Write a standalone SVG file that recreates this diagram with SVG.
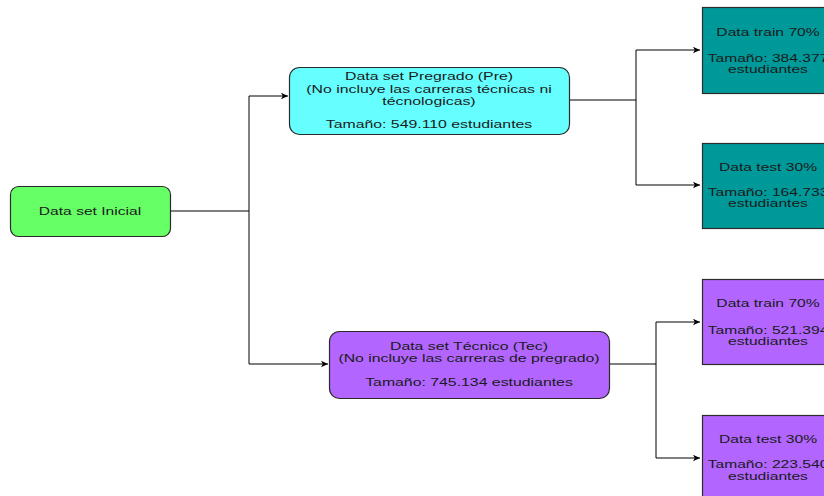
<svg xmlns="http://www.w3.org/2000/svg" width="824" height="496" viewBox="0 0 824 496">
<defs>
<style>
.box{stroke:#2b2b2b;stroke-width:1.2}
.t{font-family:"Liberation Sans",Arial,sans-serif;font-size:11px;fill:#1a1a1a;text-anchor:middle}
.c{fill:none;stroke:#000;stroke-width:1}
</style>
<marker id="arr" markerWidth="8" markerHeight="8" refX="7" refY="4" orient="auto" markerUnits="userSpaceOnUse">
<path d="M0,0.8 L7,4 L0,7.2 L1.8,4 Z" fill="#000"/>
</marker>
</defs>
<rect width="824" height="496" fill="#fff"/>
<g id="connectors">
<path class="c" d="M170,211 H249 V96 H288" marker-end="url(#arr)"/>
<path class="c" d="M249,211 V364 H328" marker-end="url(#arr)"/>
<path class="c" d="M570,100 H636 V50 H700" marker-end="url(#arr)"/>
<path class="c" d="M636,100 V185 H700" marker-end="url(#arr)"/>
<path class="c" d="M610,364 H656 V322 H700" marker-end="url(#arr)"/>
<path class="c" d="M656,364 V458 H700" marker-end="url(#arr)"/>
</g>
<g id="inicial">
<rect class="box" x="10.5" y="186.5" width="160" height="50" rx="8" fill="#66FF66"/>
<text class="t" transform="translate(90,215) scale(1.42,1)">Data set Inicial</text>
</g>
<g id="pregrado">
<rect class="box" x="289.5" y="67.5" width="280" height="67" rx="10" fill="#66FFFF"/>
<text class="t" transform="translate(429,80) scale(1.44,1)">Data set Pregrado (Pre)</text>
<text class="t" transform="translate(429,92.5) scale(1.44,1)">(No incluye las carreras técnicas ni</text>
<text class="t" transform="translate(429,105) scale(1.44,1)">técnologicas)</text>
<text class="t" transform="translate(429,128) scale(1.44,1)">Tamaño: 549.110 estudiantes</text>
</g>
<g id="tecnico">
<rect class="box" x="329.5" y="331.5" width="280" height="67" rx="10" fill="#B266FF"/>
<text class="t" transform="translate(469,350) scale(1.44,1)">Data set Técnico (Tec)</text>
<text class="t" transform="translate(469,362) scale(1.44,1)">(No incluye las carreras de pregrado)</text>
<text class="t" transform="translate(469,386) scale(1.44,1)">Tamaño: 745.134 estudiantes</text>
</g>
<g id="pre-train">
<rect class="box" x="702.5" y="7.5" width="132" height="86" fill="#009999"/>
<text class="t" transform="translate(768,36) scale(1.42,1)">Data train 70%</text>
<text class="t" transform="translate(768,62) scale(1.42,1)">Tamaño: 384.377</text>
<text class="t" transform="translate(768,73) scale(1.42,1)">estudiantes</text>
</g>
<g id="pre-test">
<rect class="box" x="702.5" y="143.5" width="132" height="85" fill="#009999"/>
<text class="t" transform="translate(768,171) scale(1.42,1)">Data test 30%</text>
<text class="t" transform="translate(768,196) scale(1.42,1)">Tamaño: 164.733</text>
<text class="t" transform="translate(768,207) scale(1.42,1)">estudiantes</text>
</g>
<g id="tec-train">
<rect class="box" x="702.5" y="279.5" width="132" height="85" fill="#B266FF"/>
<text class="t" transform="translate(768,307) scale(1.42,1)">Data train 70%</text>
<text class="t" transform="translate(768,334) scale(1.42,1)">Tamaño: 521.394</text>
<text class="t" transform="translate(768,345) scale(1.42,1)">estudiantes</text>
</g>
<g id="tec-test">
<rect class="box" x="702.5" y="415.5" width="132" height="85" fill="#B266FF"/>
<text class="t" transform="translate(768,443) scale(1.42,1)">Data test 30%</text>
<text class="t" transform="translate(768,468) scale(1.42,1)">Tamaño: 223.540</text>
<text class="t" transform="translate(768,480) scale(1.42,1)">estudiantes</text>
</g>
</svg>
